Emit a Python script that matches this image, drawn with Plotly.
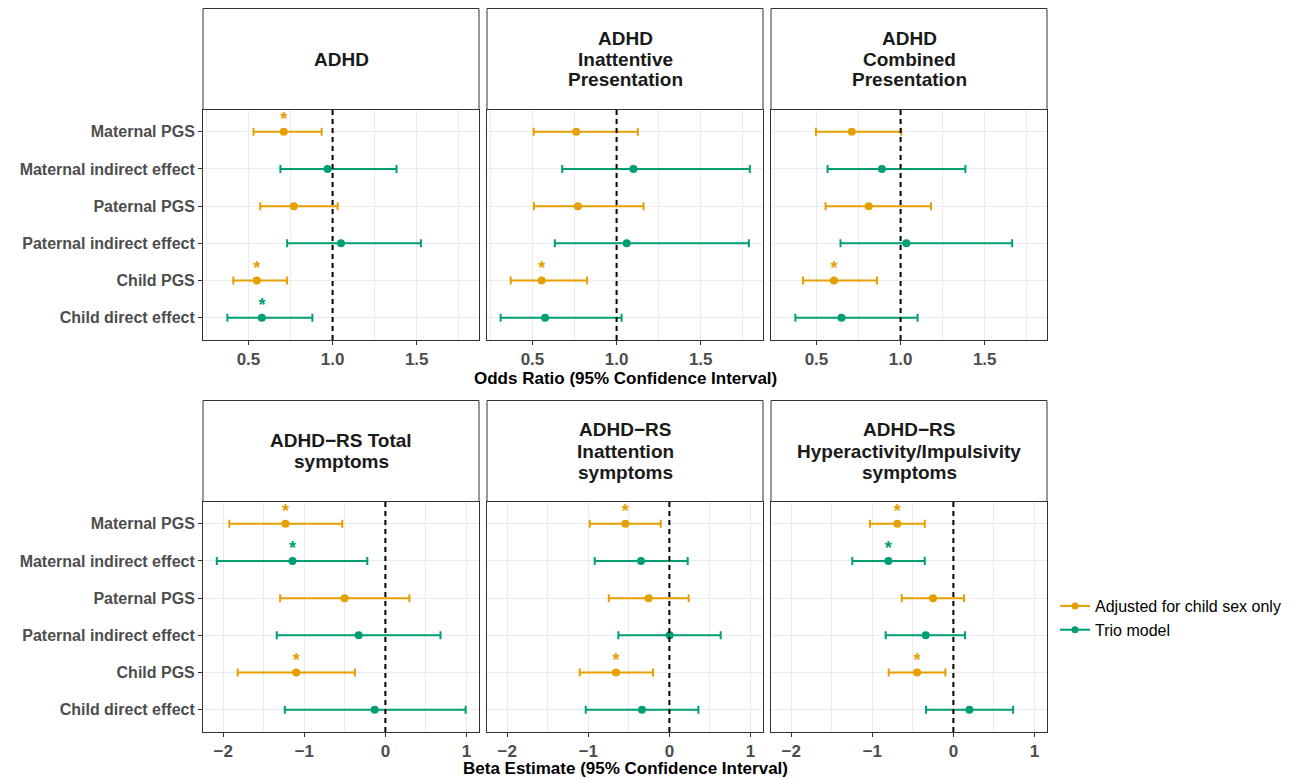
import plotly.graph_objects as go

# ---------------- data ----------------
categories = ["Maternal PGS", "Maternal indirect effect", "Paternal PGS",
              "Paternal indirect effect", "Child PGS", "Child direct effect"]
# model per row: A = Adjusted for child sex only, T = Trio model
row_model = ["A", "T", "A", "T", "A", "T"]

panel_titles = [
    ["ADHD"],
    ["ADHD", "Inattentive", "Presentation"],
    ["ADHD", "Combined", "Presentation"],
    ["ADHD\u2212RS Total", "symptoms"],
    ["ADHD\u2212RS", "Inattention", "symptoms"],
    ["ADHD\u2212RS", "Hyperactivity/Impulsivity", "symptoms"],
]

# Odds ratios (top row)
adhd_est = [0.71, 0.97, 0.77, 1.05, 0.55, 0.58]
adhd_lo  = [0.53, 0.69, 0.57, 0.73, 0.41, 0.375]
adhd_hi  = [0.935, 1.38, 1.03, 1.525, 0.73, 0.88]
adhd_sig = [1, 0, 0, 0, 1, 1]

inat_est = [0.76, 1.10, 0.77, 1.06, 0.555, 0.575]
inat_lo  = [0.507, 0.677, 0.509, 0.633, 0.371, 0.311]
inat_hi  = [1.126, 1.792, 1.16, 1.786, 0.825, 1.03]
inat_sig = [0, 0, 0, 0, 1, 0]

comb_est = [0.71, 0.889, 0.811, 1.034, 0.604, 0.649]
comb_lo  = [0.497, 0.566, 0.554, 0.643, 0.42, 0.375]
comb_hi  = [1.004, 1.385, 1.181, 1.663, 0.86, 1.101]
comb_sig = [0, 0, 0, 0, 1, 0]

# Beta estimates (bottom row)
tot_est = [-1.232, -1.146, -0.503, -0.33, -1.10, -0.132]
tot_lo  = [-1.925, -2.08, -1.298, -1.34, -1.822, -1.241]
tot_hi  = [-0.532, -0.223, 0.297, 0.68, -0.376, 0.99]
tot_sig = [1, 1, 0, 0, 1, 0]

ina_est = [-0.543, -0.35, -0.255, 0.004, -0.658, -0.338]
ina_lo  = [-0.983, -0.921, -0.748, -0.629, -1.106, -1.032]
ina_hi  = [-0.107, 0.226, 0.238, 0.633, -0.202, 0.358]
ina_sig = [1, 0, 0, 0, 1, 0]

hyp_est = [-0.691, -0.802, -0.251, -0.341, -0.448, 0.198]
hyp_lo  = [-1.028, -1.247, -0.637, -0.835, -0.798, -0.337]
hyp_hi  = [-0.353, -0.353, 0.132, 0.144, -0.099, 0.737]
hyp_sig = [1, 1, 0, 0, 1, 0]

panels = [
    (adhd_est, adhd_lo, adhd_hi, adhd_sig),
    (inat_est, inat_lo, inat_hi, inat_sig),
    (comb_est, comb_lo, comb_hi, comb_sig),
    (tot_est, tot_lo, tot_hi, tot_sig),
    (ina_est, ina_lo, ina_hi, ina_sig),
    (hyp_est, hyp_lo, hyp_hi, hyp_sig),
]

top_ticks = [0.5, 1.0, 1.5]
top_ticktext = ["0.5", "1.0", "1.5"]
top_minor = [0.25, 0.75, 1.25, 1.75]
bot_ticks = [-2, -1, 0, 1]
bot_ticktext = ["\u22122", "\u22121", "0", "1"]
bot_minor = [-1.5, -0.5, 0.5]
ref_values = [1.0, 0.0]

model_names = {"A": "Adjusted for child sex only", "T": "Trio model"}
model_colors = {"A": "#E69F00", "T": "#009E73"}

# ---------------- layout geometry ----------------
W, H = 1309, 779
FONT = "Liberation Sans, Arial, sans-serif"
col_px = [(203, 479), (487, 763), (771, 1047)]
row_px = [(109.5, 340), (501.5, 732)]
strip_px = [(8.5, 109.5), (400.5, 501.5)]
xranges = [[0.23, 1.87], [-2.25, 1.155]]


def fx(p):
    return p / W


def fy(p):
    return 1 - p / H


fig = go.Figure()
shapes = []
annotations = []
layout_axes = {}

for k, (est, lo, hi, sig) in enumerate(panels):
    r, c = divmod(k, 3)
    n = k + 1
    xa = "x" if n == 1 else f"x{n}"
    ya = "y" if n == 1 else f"y{n}"
    xr = row_px[r]
    xc = col_px[c]

    layout_axes[f"xaxis{n}"] = dict(
        domain=[fx(xc[0]), fx(xc[1])], anchor=ya, range=xranges[r],
        tickvals=top_ticks if r == 0 else bot_ticks,
        ticktext=top_ticktext if r == 0 else bot_ticktext,
        ticks="outside", ticklen=4, tickcolor="#333333", tickwidth=1,
        ticklabelstandoff=0,
        tickfont=dict(family=FONT, size=17, color="#4D4D4D", weight="bold"),
        showgrid=True, gridcolor="#EBEBEB", gridwidth=1.1,
        minor=dict(tickvals=top_minor if r == 0 else bot_minor, showgrid=True,
                   gridcolor="#EBEBEB", gridwidth=0.55, ticks=""),
        showline=True, mirror=True, linecolor="#333333", linewidth=1,
        zeroline=False, fixedrange=True,
    )
    layout_axes[f"yaxis{n}"] = dict(
        domain=[fy(xr[1]), fy(xr[0])], anchor=xa, range=[5.6, -0.6],
        tickvals=list(range(len(categories))), ticktext=categories,
        showticklabels=(c == 0),
        ticks="outside" if c == 0 else "", ticklen=4, tickcolor="#333333", tickwidth=1,
        tickfont=dict(family=FONT, size=16, color="#4D4D4D", weight="bold"),
        showgrid=True, gridcolor="#EBEBEB", gridwidth=1.1,
        showline=True, mirror=True, linecolor="#333333", linewidth=1,
        zeroline=False, fixedrange=True,
    )

    for m in ["A", "T"]:
        idx = [i for i, mm in enumerate(row_model) if mm == m]
        col = model_colors[m]
        fig.add_trace(go.Scatter(
            x=[est[i] for i in idx], y=idx, mode="markers",
            marker=dict(color=col, size=8),
            error_x=dict(type="data", symmetric=False,
                         array=[hi[i] - est[i] for i in idx],
                         arrayminus=[est[i] - lo[i] for i in idx],
                         color=col, thickness=2, width=4),
            xaxis=xa, yaxis=ya, showlegend=False, hoverinfo="skip",
        ))
        sidx = [i for i in idx if sig[i]]
        if sidx:
            fig.add_trace(go.Scatter(
                x=[est[i] for i in sidx], y=[i - 0.3 for i in sidx],
                mode="text", text=["*"] * len(sidx),
                textposition="middle center",
                textfont=dict(family=FONT, size=18, color=col, weight="bold"),
                xaxis=xa, yaxis=ya, showlegend=False, hoverinfo="skip",
            ))

    # reference line
    shapes.append(dict(type="line", xref=xa, yref=f"{ya} domain",
                       x0=ref_values[r], x1=ref_values[r], y0=0, y1=1,
                       line=dict(color="black", width=2, dash="5px,4px"),
                       layer="above"))

    # strip
    sp = strip_px[r]
    shapes.append(dict(type="rect", xref="paper", yref="paper",
                       x0=fx(xc[0]), x1=fx(xc[1]), y0=fy(sp[1]), y1=fy(sp[0]),
                       fillcolor="white", line=dict(color="#333333", width=1),
                       layer="below"))
    lines = panel_titles[k]
    mid = (sp[0] + sp[1]) / 2
    lh = 21
    for j, t in enumerate(lines):
        yc = mid + (j - (len(lines) - 1) / 2) * lh
        annotations.append(dict(
            text=t, xref="paper", yref="paper", x=fx((xc[0] + xc[1]) / 2),
            y=fy(yc), xanchor="center", yanchor="middle", showarrow=False,
            font=dict(family=FONT, size=19, color="#1A1A1A", weight="bold"),
        ))

# axis titles
annotations.append(dict(text="Odds Ratio (95% Confidence Interval)", xref="paper", yref="paper",
                        x=fx(625), y=fy(378), xanchor="center", yanchor="middle", showarrow=False,
                        font=dict(family=FONT, size=17, color="black", weight="bold")))
annotations.append(dict(text="Beta Estimate (95% Confidence Interval)", xref="paper", yref="paper",
                        x=fx(625), y=fy(768), xanchor="center", yanchor="middle", showarrow=False,
                        font=dict(family=FONT, size=17, color="black", weight="bold")))

# legend entries
for m in ["A", "T"]:
    fig.add_trace(go.Scatter(x=[None], y=[None], mode="lines+markers", name=model_names[m],
                             line=dict(color=model_colors[m], width=2),
                             marker=dict(color=model_colors[m], size=7),
                             showlegend=True))

fig.update_layout(
    width=W, height=H, margin=dict(l=0, r=0, t=0, b=0),
    paper_bgcolor="white", plot_bgcolor="white",
    shapes=shapes, annotations=annotations,
    legend=dict(x=fx(1055), y=fy(618), xanchor="left", yanchor="middle",
                font=dict(family=FONT, size=16, color="black"),
                bgcolor="rgba(0,0,0,0)", itemwidth=30, tracegroupgap=0),
    showlegend=True,
    **layout_axes,
)

fig.write_html("out.html")
